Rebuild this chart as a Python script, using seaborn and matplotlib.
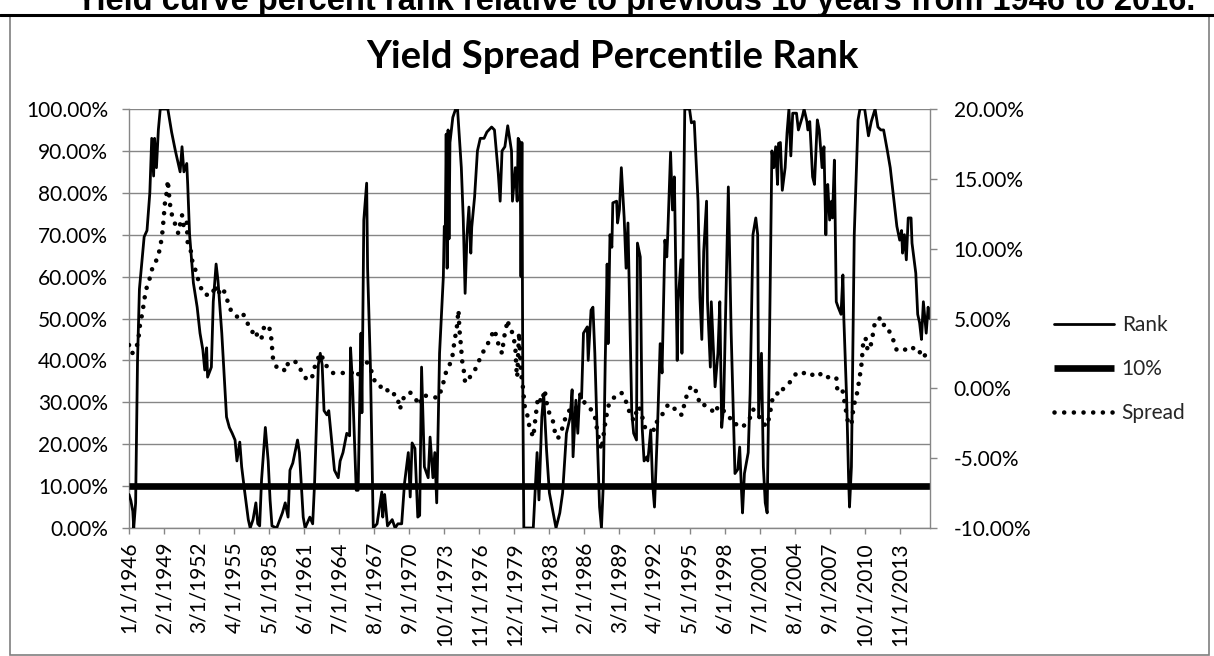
import numpy as np
import pandas as pd
import matplotlib
matplotlib.use("Agg")
import matplotlib.pyplot as plt
from matplotlib.ticker import PercentFormatter
from matplotlib.lines import Line2D
from matplotlib.patches import Rectangle
import seaborn as sns

# ---------------------------------------------------------------------------
# Data: monthly series starting January 1946 (x = months since 1/1/1946)
# ---------------------------------------------------------------------------
start_date = "1946-01-01"
n_months = 847          # Jan 1946 .. Jul 2016
label_step = 37         # months between category labels

# Percentile rank of the yield spread vs. the previous 10 years (%)
rank_months = [
    0, 2, 4, 5, 7, 9, 11, 13, 16, 19, 22, 24, 26, 27, 29, 31, 33, 41, 45, 49,
    54, 56, 58, 61, 62, 64, 68, 72, 75, 78, 80, 82, 83, 87, 89, 92, 94, 98, 101, 103,
    106, 109, 112, 114, 117, 119, 122, 126, 128, 131, 134, 136, 138, 140, 144, 147, 149, 151, 156, 162,
    165, 168, 170, 173, 178, 180, 184, 186, 191, 194, 196, 200, 202, 204, 206, 209, 211, 214, 217, 221,
    223, 226, 230, 233, 234, 236, 240, 242, 245, 246, 248, 251, 252, 255, 258, 262, 267, 268, 270, 273,
    278, 281, 284, 288, 291, 295, 297, 299, 302, 305, 307, 309, 312, 316, 318, 321, 323, 325, 328, 332,
    333, 334, 335, 336, 337, 338, 339, 340, 342, 345, 347, 351, 353, 355, 357, 359, 361, 362, 365, 368,
    371, 375, 378, 383, 386, 390, 392, 394, 397, 400, 404, 405, 408, 410, 411, 413, 414, 415, 416, 417,
    427, 431, 433, 436, 438, 441, 444, 448, 451, 455, 458, 462, 466, 468, 469, 472, 474, 476, 478, 480,
    484, 485, 488, 490, 492, 495, 497, 499, 501, 503, 505, 506, 508, 510, 511, 515, 516, 518, 520, 523,
    525, 527, 529, 531, 533, 536, 537, 540, 542, 544, 547, 548, 551, 553, 555, 558, 561, 563, 566, 568,
    569, 572, 574, 576, 579, 580, 583, 584, 587, 592, 594, 597, 601, 603, 605, 607, 610, 611, 614, 615,
    619, 622, 624, 626, 628, 631, 633, 636, 640, 643, 645, 647, 648, 650, 654, 656, 659, 662, 664, 665,
    668, 670, 672, 674, 677, 679, 681, 683, 685, 686, 688, 690, 693, 695, 697, 699, 701, 705, 707, 711,
    713, 716, 717, 719, 722, 724, 727, 729, 732, 734, 736, 737, 738, 740, 742, 743, 745, 747, 749, 752,
    754, 755, 758, 760, 761, 763, 766, 770, 772, 777, 781, 784, 788, 791, 794, 797, 801, 804, 807, 811,
    814, 816, 817, 819, 821, 823, 826, 827, 831, 833, 835, 837, 839, 842, 844, 846,
]
rank_pct = [
    8, 6.5, 4, 0, 6, 40, 57, 62, 69.5, 71, 80, 93, 84, 93, 86, 95, 100, 100, 94.5, 90,
    85, 91, 85, 87, 82, 70, 58.5, 52.7, 46.5, 42.5, 37.7, 43, 36, 38.4, 54, 63, 59, 46.5, 34.6, 26.5,
    24, 22.6, 21, 16, 20.5, 14.6, 9, 2, 0, 2, 6, 1, 0.5, 11.5, 24, 16, 6.7, 0.5, 0, 3.6,
    6, 2.6, 13.8, 15.5, 21, 18, 2.6, 0, 2.6, 1, 10.7, 39, 41.7, 39, 28, 27, 28, 21, 13.8, 12,
    16, 18, 22.6, 22, 43, 34.6, 9, 9, 46.5, 27.5, 73.5, 82.3, 62, 38.4, 0, 1, 8.6, 2.6, 8, 0.5,
    2, 0, 1, 1, 10.7, 18, 7.4, 20.3, 19, 2.6, 3, 38.4, 14.6, 12, 21.7, 12, 18, 6, 41.7, 60,
    72, 70, 94, 62, 95, 69, 92, 94, 98, 100, 100, 86, 74, 56, 70, 76.6, 65.6, 71.8, 79, 90,
    93, 93, 94.5, 95.7, 95, 84.7, 78, 90, 91, 96, 90, 78, 86, 78, 93, 92, 60, 92, 30, 0,
    0, 18, 6.7, 26.5, 32, 18.6, 8.4, 3.6, 0, 3.6, 8.4, 22.6, 26.5, 33, 17, 30.5, 22.6, 32, 31, 46.5,
    48, 40, 52, 52.7, 41.7, 18.6, 5, 0, 10.7, 40, 63, 44, 70, 67, 77.6, 78, 72.8, 76, 86, 74,
    62, 72.8, 50, 27.5, 22.6, 21, 68, 64.7, 24, 16, 17, 16, 23.4, 10.7, 5, 22.6, 44, 37, 68.7, 64.7,
    70, 89.7, 75.9, 83.8, 40, 54, 64, 41.7, 100, 100, 96.7, 97, 78, 55, 45, 66, 78, 54, 38.4, 54,
    33.7, 41.7, 54, 24, 28.9, 60, 81.4, 46.5, 13, 14, 19.3, 8.4, 3.6, 13, 18, 32, 70, 74, 70, 26.5,
    41.7, 14.6, 6, 3.6, 54, 90, 86, 91, 82, 91.8, 92, 80.6, 86, 94.3, 100, 88.8, 99, 99, 95, 98,
    100, 97, 95, 97, 83.8, 82, 97.4, 95, 86, 91, 70, 79, 82, 73.5, 78, 74, 87.8, 54, 52.7, 51,
    60.4, 50, 30.5, 12, 5, 14.6, 70, 97.4, 100, 100, 93.6, 97, 100, 95.7, 95, 95, 90, 86, 80, 72,
    68.7, 71, 65.6, 70, 64, 74, 74, 68, 60.8, 51, 49, 45, 54, 46.5, 52.7, 50,
]

# Yield spread (%), right-hand axis
spread_months = [
    0, 3, 7, 10, 11, 13, 15, 17, 19, 22, 25, 30, 33, 35, 36, 37, 38, 40, 41, 43,
    45, 49, 52, 56, 58, 61, 62, 66, 67, 70, 72, 75, 78, 82, 88, 91, 93, 99, 103, 106,
    110, 115, 120, 125, 128, 131, 134, 136, 140, 143, 146, 148, 150, 151, 152, 156, 162, 165, 168, 173,
    178, 183, 188, 193, 196, 200, 203, 206, 210, 215, 226, 233, 239, 242, 247, 251, 257, 260, 265, 270,
    276, 281, 284, 286, 291, 297, 302, 307, 310, 321, 326, 330, 332, 334, 337, 341, 342, 344, 346, 347,
    348, 349, 350, 351, 352, 354, 355, 360, 367, 371, 374, 379, 383, 386, 390, 394, 396, 400, 402, 405,
    408, 409, 410, 412, 413, 414, 416, 418, 421, 423, 427, 429, 432, 436, 439, 441, 444, 448, 450, 453,
    457, 460, 463, 468, 472, 476, 481, 486, 492, 495, 499, 503, 506, 510, 515, 520, 524, 527, 530, 534,
    537, 540, 545, 550, 555, 558, 564, 569, 574, 579, 584, 587, 590, 594, 600, 603, 608, 613, 619, 622,
    626, 629, 634, 637, 643, 648, 656, 659, 664, 669, 674, 677, 679, 680, 684, 687, 690, 695, 700, 705,
    710, 716, 721, 726, 732, 737, 742, 747, 748, 753, 755, 757, 759, 761, 763, 765, 767, 770, 771, 773,
    774, 775, 776, 779, 780, 784, 786, 788, 791, 796, 798, 800, 804, 807, 811, 816, 821, 827, 832, 836,
    839, 844, 846,
]
spread_pct = [
    3.1, 2.5, 2.7, 3.5, 4.3, 5.0, 5.8, 6.7, 7.3, 7.9, 8.7, 9.3, 10.1, 11.0, 11.7, 12.5, 13.3, 14.1, 14.9, 13.3,
    12.5, 11.7, 11.1, 12.4, 11.5, 11.9, 10.4, 9.7, 9.0, 8.5, 8.0, 7.4, 6.8, 6.7, 6.7, 7.4, 6.7, 7.2, 6.5, 5.8,
    5.3, 5.1, 5.4, 4.7, 4.2, 4.0, 4.2, 3.5, 3.6, 4.5, 4.4, 4.4, 3.8, 3.0, 2.2, 1.5, 1.5, 1.2, 1.8, 2.0,
    1.8, 1.1, 0.6, 0.7, 1.5, 2.2, 2.5, 1.8, 1.5, 1.1, 1.1, 1.0, 1.3, 1.0, 2.0, 1.9, 1.1, 0.4, 0.1, 0.2,
    -0.5, -0.4, -0.8, -1.5, -0.5, -0.3, -0.7, -1.2, -0.5, -0.6, -0.7, -0.1, 0.4, 1.0, 1.5, 2.0, 2.5, 3.5, 4.2, 4.9,
    5.6, 4.2, 3.5, 2.7, 1.9, 1.1, 0.4, 0.8, 1.5, 2.2, 2.6, 3.2, 3.8, 4.2, 3.2, 2.5, 3.6, 4.9, 4.2, 4.0,
    3.0, 1.5, 0.8, 4.0, 2.5, 1.1, 0.1, -1.3, -2.0, -2.8, -3.5, -2.3, -0.6, -1.0, -0.1, -1.0, -1.8, -2.4, -3.2, -3.6,
    -3.0, -2.3, -1.8, -1.3, -1.4, -1.2, -1.0, -1.3, -2.0, -3.2, -4.4, -2.5, -1.3, -0.8, -0.5, -0.3, -0.8, -1.3, -2.1, -2.3,
    -1.3, -1.5, -2.8, -2.8, -3.0, -2.3, -1.8, -1.2, -1.2, -1.8, -1.9, -1.0, -0.3, 0.2, -0.3, -1.2, -1.2, -1.4, -1.8, -1.3,
    -1.4, -1.7, -2.0, -2.5, -2.6, -2.8, -2.1, -1.5, -1.8, -2.5, -2.7, -1.8, -1.0, -0.6, -0.5, 0.0, -0.1, 0.2, 0.6, 1.1,
    1.0, 1.2, 1.0, 0.8, 1.1, 0.8, 0.8, 0.8, 0.0, 0.1, -0.7, -1.5, -2.3, -2.6, -2.6, -1.5, -0.8, -0.1, 0.6, 1.3,
    2.0, 2.9, 3.6, 3.5, 2.7, 3.2, 4.0, 4.8, 5.0, 5.0, 4.3, 4.3, 4.0, 3.5, 2.7, 2.7, 2.8, 3.0, 2.5, 2.6,
    2.2, 2.7, 2.5,
]

# Reference level drawn across the whole period (%)
threshold_pct = 10.0

series_names = ["Rank", "10%", "Spread"]
chart_title = "Yield Spread Percentile Rank"
page_heading = ("Yield curve percent rank relative to previous 10 years "
                "from 1946 to 2016.")

# ---------------------------------------------------------------------------
# Styling
# ---------------------------------------------------------------------------
sns.set_theme(style="white")
plt.rcParams["font.family"] = ["Lato", "DejaVu Sans"]
plt.rcParams["axes.unicode_minus"] = False

W, H = 1214, 656
GRID = "#868686"
RANK_LW = 2.0
LEVEL_LW = 4.8
DOT_LW = 3.3
DOT_STYLE = (0, (0.01, 2.1))

fig = plt.figure(figsize=(W / 100, H / 100), dpi=100)
fig.patch.set_facecolor("white")

# plot area in pixel coordinates: left 129, right 930, top 109, bottom 528
ax = fig.add_axes([129 / W, 1 - 528 / H, (930 - 129) / W, (528 - 109) / H])

rank_df = pd.DataFrame({"month": rank_months, "value": rank_pct})
spread_df = pd.DataFrame({"month": spread_months, "value": spread_pct})
level_df = pd.DataFrame({"month": [0, n_months - 1],
                         "value": [threshold_pct, threshold_pct]})

sns.lineplot(data=rank_df, x="month", y="value", ax=ax, color="black",
             lw=RANK_LW, estimator=None, sort=False, zorder=3)
sns.lineplot(data=level_df, x="month", y="value", ax=ax, color="black",
             lw=LEVEL_LW, estimator=None, sort=False, zorder=4,
             solid_capstyle="butt")

ax2 = ax.twinx()
sns.lineplot(data=spread_df, x="month", y="value", ax=ax2, color="black",
             lw=DOT_LW, estimator=None, sort=False,
             linestyle=DOT_STYLE, dash_capstyle="round")

# axes ranges
ax.set_xlim(0, n_months - 1)
ax.set_ylim(0, 100)
ax2.set_ylim(-10, 20)

# category labels every 37 months
dates = pd.date_range(start_date, periods=n_months, freq="MS")
tick_pos = np.arange(0, n_months, label_step)
tick_lab = [f"{d.month}/{d.day}/{d.year}" for d in dates[tick_pos]]
ax.set_xticks(tick_pos)
ax.set_xticklabels(tick_lab, rotation=90)

ax.set_yticks(np.arange(0, 101, 10))
ax.yaxis.set_major_formatter(PercentFormatter(xmax=100, decimals=2))
ax2.set_yticks(np.arange(-10, 21, 5))
ax2.yaxis.set_major_formatter(PercentFormatter(xmax=100, decimals=2))

ax.set_xlabel("")
ax.set_ylabel("")
ax2.set_ylabel("")

ax.set_axisbelow(True)
ax.grid(axis="y", color=GRID, lw=1.0)
ax.grid(axis="x", visible=False)
ax2.grid(False)

for a in (ax, ax2):
    for s in a.spines.values():
        s.set_visible(False)
ax.spines["left"].set_visible(True)
ax.spines["bottom"].set_visible(True)
ax2.spines["right"].set_visible(True)
for s in (ax.spines["left"], ax.spines["bottom"], ax2.spines["right"]):
    s.set_color(GRID)
    s.set_linewidth(1.0)

ax.tick_params(axis="y", left=True, direction="out", length=5, width=1,
               color=GRID, pad=10, labelsize=15, labelcolor="black")
ax.tick_params(axis="x", bottom=True, direction="out", length=4, width=1,
               color=GRID, pad=6, labelsize=15, labelcolor="black")
ax2.tick_params(axis="y", right=True, direction="out", length=5, width=1,
                color=GRID, pad=12, labelsize=15, labelcolor="black")

# legend to the right of the plot area
handles = [
    Line2D([], [], color="black", lw=RANK_LW),
    Line2D([], [], color="black", lw=LEVEL_LW, solid_capstyle="butt"),
    Line2D([], [], color="black", lw=DOT_LW, linestyle=DOT_STYLE,
           dash_capstyle="round"),
]
fig.legend(handles, series_names, loc="center left",
           bbox_to_anchor=(1054 / W, 1 - 369 / H), frameon=False,
           fontsize=15, handlelength=2.9, handletextpad=0.35,
           labelspacing=1.15, borderpad=0, borderaxespad=0)

# chart title
fig.text(612 / W, 1 - 68 / H, chart_title, ha="center", va="baseline",
         fontsize=27.5, fontweight="bold", color="black")

# heading above the chart frame (partly clipped by the top edge)
fig.text(636 / W, 1 - 10 / H, page_heading, ha="center", va="baseline",
         fontsize=23.5, fontweight="bold", color="black",
         family=["Liberation Sans", "DejaVu Sans"])

# chart frame and rule under the heading
fig.add_artist(Rectangle((10 / W, 1 / H), (1209 - 10) / W, (655 - 16) / H,
                         transform=fig.transFigure, fill=False,
                         edgecolor="#7f7f7f", lw=1.2))
fig.add_artist(Line2D([0, 1], [1 - 15 / H, 1 - 15 / H],
                      transform=fig.transFigure, color="black", lw=2.2))

fig.savefig("out.png", dpi=100, facecolor="white")
